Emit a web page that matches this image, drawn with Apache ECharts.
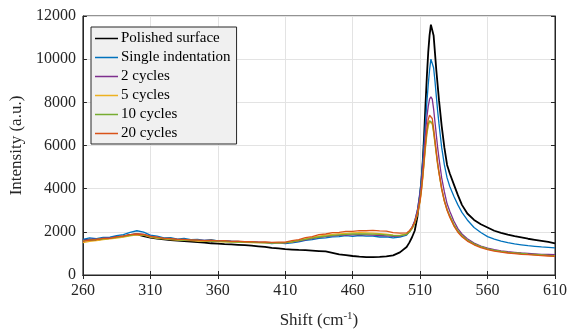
<!DOCTYPE html>
<html>
<head>
<meta charset="utf-8">
<script src="https://cdn.jsdelivr.net/npm/echarts@6/dist/echarts.min.js"></script>
<style>html,body{margin:0;padding:0;background:#fff}#c{width:570px;height:334px}</style>
</head>
<body>
<div id="c"></div>
<script>
const shift = [260,265,270,275,280,285,290,295,300,305,310,315,320,325,330,335,340,345,350,355,360,365,370,375,380,385,390,395,400,405,410,415,420,425,430,435,440,445,450,455,460,465,470,475,480,485,490,495,500,
502,504,506,508,510,511,512,513,514,515,516,517,518,519,520,521,522,523,524,526,528,530,532,535,538,541,545,550,555,560,565,570,575,580,585,590,595,600,605,610];

const polished = [1600,1640,1620,1690,1710,1760,1790,1860,1880,1800,1730,1690,1650,1620,1590,1570,1550,1520,1500,1470,1450,1430,1420,1400,1380,1360,1330,1300,1260,1230,1200,1180,1160,1150,1130,1110,1090,1030,960,920,880,850,830,830,840,860,910,1050,1300,
1500,1750,2050,2700,3700,4400,5300,6500,7900,9200,10300,11100,11600,11650,11100,10300,9500,8800,8100,6900,5900,5100,4700,4200,3700,3250,2850,2550,2350,2200,2050,1950,1870,1800,1740,1680,1630,1580,1530,1470];

const single = [1650,1720,1680,1740,1750,1820,1870,1980,2050,1990,1850,1800,1720,1730,1660,1700,1640,1650,1600,1640,1580,1590,1570,1560,1520,1530,1510,1500,1460,1490,1450,1490,1530,1600,1640,1700,1720,1770,1780,1820,1790,1830,1800,1800,1760,1770,1720,1760,1850,
2000,2200,2500,3000,3900,4500,5300,6200,7100,8000,8800,9500,10000,10050,9600,9000,8300,7600,7000,5900,5100,4500,4100,3650,3250,2900,2550,2200,1970,1780,1660,1570,1500,1440,1400,1360,1330,1300,1280,1260];

const cyc2 = [1600,1650,1670,1700,1720,1760,1800,1850,1920,1880,1800,1740,1700,1680,1650,1640,1630,1610,1600,1590,1580,1570,1560,1550,1540,1530,1520,1510,1500,1490,1490,1520,1570,1630,1690,1740,1780,1810,1840,1850,1860,1870,1860,1850,1830,1810,1790,1800,1880,
2000,2200,2500,3000,3800,4300,5000,5800,6600,7300,7800,8150,8250,8150,7700,7100,6500,5900,5400,4500,3850,3300,2950,2500,2150,1900,1680,1480,1340,1240,1170,1120,1080,1050,1020,1000,980,960,950,940];

const cyc5 = [1500,1560,1590,1640,1670,1710,1760,1810,1860,1850,1760,1700,1670,1640,1620,1600,1590,1570,1560,1560,1550,1540,1530,1520,1510,1500,1500,1490,1490,1490,1500,1540,1600,1670,1740,1800,1850,1880,1910,1930,1950,1960,1950,1940,1920,1890,1850,1840,1900,
2000,2150,2400,2800,3400,3900,4500,5200,5900,6500,6900,7100,7100,7000,6600,6100,5600,5100,4700,3950,3400,3000,2700,2300,2000,1800,1600,1420,1300,1200,1130,1080,1040,1010,990,960,940,920,900,880];

const cyc10 = [1580,1620,1650,1680,1700,1740,1790,1840,1890,1860,1780,1720,1690,1660,1640,1620,1610,1600,1580,1570,1560,1550,1540,1530,1520,1510,1500,1500,1490,1490,1500,1530,1590,1650,1710,1760,1800,1840,1860,1880,1900,1910,1900,1890,1880,1860,1830,1820,1880,
1980,2150,2400,2850,3500,4000,4600,5300,6000,6600,7000,7150,7150,7050,6650,6150,5650,5150,4750,4000,3450,3050,2750,2350,2050,1830,1620,1440,1310,1210,1140,1090,1050,1020,1000,970,950,930,910,890];

const cyc20 = [1560,1620,1640,1700,1700,1770,1800,1870,1900,1880,1790,1750,1700,1690,1650,1650,1620,1620,1590,1610,1580,1590,1560,1570,1540,1550,1520,1530,1510,1520,1520,1590,1640,1730,1780,1870,1900,1960,1970,2020,2020,2060,2050,2070,2040,2030,1960,1940,1950,
2050,2200,2450,2850,3450,3950,4600,5350,6100,6750,7200,7400,7400,7250,6800,6250,5700,5200,4750,4000,3420,3000,2680,2280,1980,1770,1570,1400,1270,1180,1110,1060,1020,990,960,940,920,900,880,860];

const seriesNames = ['Polished surface','Single indentation','2 cycles','5 cycles','10 cycles','20 cycles'];
const seriesValues = [polished, single, cyc2, cyc5, cyc10, cyc20];
const seriesColors = ['#000000','#0072BD','#7E2F8E','#EDB120','#77AC30','#D95319'];
const xTicks = [260,310,360,410,460,510,560,610];
const yTicks = [0,2000,4000,6000,8000,10000,12000];

const font = 'Liberation Serif, Times New Roman, serif';
const chart = echarts.init(document.getElementById('c'), null, {renderer:'canvas'});

const axisCommon = {
  axisLine:{show:true, lineStyle:{color:'#262626', width:1}},
  axisTick:{show:true, inside:true, length:4, lineStyle:{color:'#262626'}},
};

chart.setOption({
  animation:false,
  backgroundColor:'#ffffff',
  grid:{left:81, right:15, top:16, bottom:56, show:true, borderColor:'#262626', borderWidth:1, backgroundColor:'transparent'},
  legend:{
    orient:'vertical', left:91, top:27,
    padding:[4,6,3,4],
    backgroundColor:'#f0f0f0', borderColor:'#262626', borderWidth:1, borderRadius:0,
    icon:'rect',
    itemWidth:23, itemHeight:1.5, itemGap:4,
    textStyle:{fontFamily:font, fontSize:15, color:'#000', lineHeight:14, padding:[0,0,0,-2]},
    data:seriesNames
  },
  xAxis:[{
    type:'value', min:xTicks[0], max:xTicks[xTicks.length-1], interval:50,
    ...axisCommon,
    splitLine:{show:true, lineStyle:{color:'#e3e3e3', width:1}},
    axisLabel:{fontFamily:font, fontSize:16, color:'#262626', margin:8},
    name:'{a|Shift (cm}{s|-1}{a|)}', nameLocation:'middle', nameGap:36,
    nameTextStyle:{rich:{a:{fontFamily:font, fontSize:17, color:'#262626'}, s:{fontFamily:font, fontSize:11, color:'#262626', verticalAlign:'top', padding:[0,0,8,0]}}}
  },{
    type:'value', position:'top', min:xTicks[0], max:xTicks[xTicks.length-1], interval:50,
    ...axisCommon, axisLabel:{show:false}, splitLine:{show:false}
  }],
  yAxis:[{
    type:'value', min:yTicks[0], max:yTicks[yTicks.length-1], interval:2000,
    ...axisCommon,
    splitLine:{show:true, lineStyle:{color:'#e3e3e3', width:1}},
    axisLabel:{fontFamily:font, fontSize:16, color:'#262626', margin:7, formatter:(v)=>String(v)},
    name:'Intensity (a.u.)', nameLocation:'middle', nameGap:57,
    nameTextStyle:{fontFamily:font, fontSize:17, color:'#262626'}
  },{
    type:'value', position:'right', min:yTicks[0], max:yTicks[yTicks.length-1], interval:2000,
    ...axisCommon, axisLabel:{show:false}, splitLine:{show:false}
  }],
  series: seriesNames.map((n,i)=>({
    name:n, type:'line', symbol:'none', showSymbol:false,
    data: shift.map((x,j)=>[x, seriesValues[i][j]]),
    lineStyle:{color:seriesColors[i], width: i===0 ? 1.8 : 1.3},
    itemStyle:{color:seriesColors[i]},
    z: 2+i
  }))
});
</script>
</body>
</html>
